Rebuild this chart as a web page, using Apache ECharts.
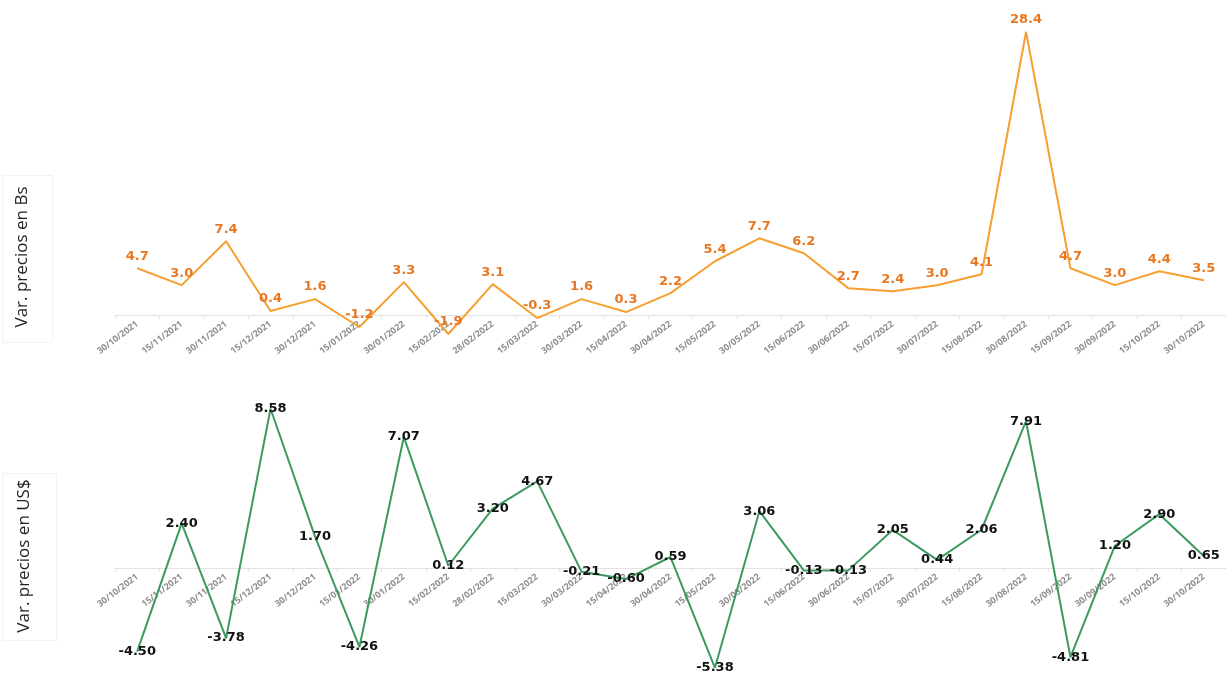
<!DOCTYPE html>
<html>
<head>
<meta charset="utf-8">
<script src="https://cdn.jsdelivr.net/npm/echarts@6/dist/echarts.min.js"></script>
<style>
html,body{margin:0;padding:0;background:#fff;}
#c{width:1226px;height:678px;}
</style>
</head>
<body>
<div id="c"></div>
<script>
const fechas = ['30/10/2021','15/11/2021','30/11/2021','15/12/2021','30/12/2021','15/01/2022','30/01/2022','15/02/2022','28/02/2022','15/03/2022','30/03/2022','15/04/2022','30/04/2022','15/05/2022','30/05/2022','15/06/2022','30/06/2022','15/07/2022','30/07/2022','15/08/2022','30/08/2022','15/09/2022','30/09/2022','15/10/2022','30/10/2022'];
const varBs = [4.7,3.0,7.4,0.4,1.6,-1.2,3.3,-1.9,3.1,-0.3,1.6,0.3,2.2,5.4,7.7,6.2,2.7,2.4,3.0,4.1,28.4,4.7,3.0,4.4,3.5];
const varUsd = [-4.50,2.40,-3.78,8.58,1.70,-4.26,7.07,0.12,3.20,4.67,-0.21,-0.60,0.59,-5.38,3.06,-0.13,-0.13,2.05,0.44,2.06,7.91,-4.81,1.20,2.90,0.65];
const tituloBs = 'Var. precios en Bs';
const tituloUsd = 'Var. precios en US$';

const gridTop = { left: 115, right: 0, top: 26, height: 309 };
const gridBot = { left: 115, right: 0, top: 401, height: 269 };
const yTop = { min: -2, max: 29 };
const yBot = { min: -5.5, max: 9 };

function zeroOffset(g, y) {
  return -(0 - y.min) / (y.max - y.min) * g.height;
}

const chart = echarts.init(document.getElementById('c'));
function xAxisFor(idx, g, y) {
  return {
    gridIndex: idx,
    type: 'category',
    data: fechas,
    boundaryGap: true,
    offset: zeroOffset(g, y),
    axisLine: { onZero: false, lineStyle: { color: '#e3e3e3', width: 1 } },
    axisTick: { show: true, length: 4, lineStyle: { color: '#e3e3e3' } },
    axisLabel: { interval: 0, rotate: 37, fontSize: 9, color: '#8e8e8e', fontFamily: 'Open Sans', fontWeight: 'bold', margin: 8 }
  };
}
const yAxisBase = {
  type: 'value',
  axisLine: { show: false },
  axisTick: { show: false },
  axisLabel: { show: false },
  splitLine: { show: false }
};
chart.setOption({
  animation: false,
  backgroundColor: '#ffffff',
  grid: [
    Object.assign({ outerBoundsMode: 'none', containLabel: false }, gridTop),
    Object.assign({ outerBoundsMode: 'none', containLabel: false }, gridBot)
  ],
  xAxis: [ xAxisFor(0, gridTop, yTop), xAxisFor(1, gridBot, yBot) ],
  yAxis: [
    Object.assign({ gridIndex: 0 }, yTop, yAxisBase),
    Object.assign({ gridIndex: 1 }, yBot, yAxisBase)
  ],
  graphic: [
    { type: 'rect', left: 0, top: 173, shape: { width: 50, height: 167 }, style: { fill: 'none', stroke: '#f2f2f2', lineWidth: 1 } },
    { type: 'rect', left: 0, top: 471, shape: { width: 54, height: 167 }, style: { fill: 'none', stroke: '#f2f2f2', lineWidth: 1 } },
    { type: 'text', x: 22, y: 257, rotation: Math.PI / 2, style: { text: tituloBs, fontSize: 17, fontFamily: 'Open Sans', fill: '#222', textAlign: 'center', textVerticalAlign: 'middle' } },
    { type: 'text', x: 24, y: 556, rotation: Math.PI / 2, style: { text: tituloUsd, fontSize: 17, fontFamily: 'Open Sans', fill: '#222', textAlign: 'center', textVerticalAlign: 'middle' } }
  ],
  series: [
    {
      type: 'line', xAxisIndex: 0, yAxisIndex: 0, data: varBs,
      symbol: 'circle', symbolSize: 1, showSymbol: true,
      lineStyle: { color: '#F5A030', width: 2 },
      itemStyle: { color: '#F5A030' },
      label: { show: true, position: 'top', distance: 5, color: '#E87722', fontSize: 13, fontWeight: 'bold', fontFamily: 'DejaVu Sans', formatter: p => p.value.toFixed(1) }
    },
    {
      type: 'line', xAxisIndex: 1, yAxisIndex: 1, data: varUsd,
      symbol: 'circle', symbolSize: 1, showSymbol: true,
      lineStyle: { color: '#3C9A5F', width: 2 },
      itemStyle: { color: '#3C9A5F' },
      label: { show: true, position: 'inside', color: '#111', fontSize: 13, fontWeight: 'bold', fontFamily: 'DejaVu Sans', formatter: p => p.value.toFixed(2) }
    }
  ]
});
</script>
</body>
</html>
